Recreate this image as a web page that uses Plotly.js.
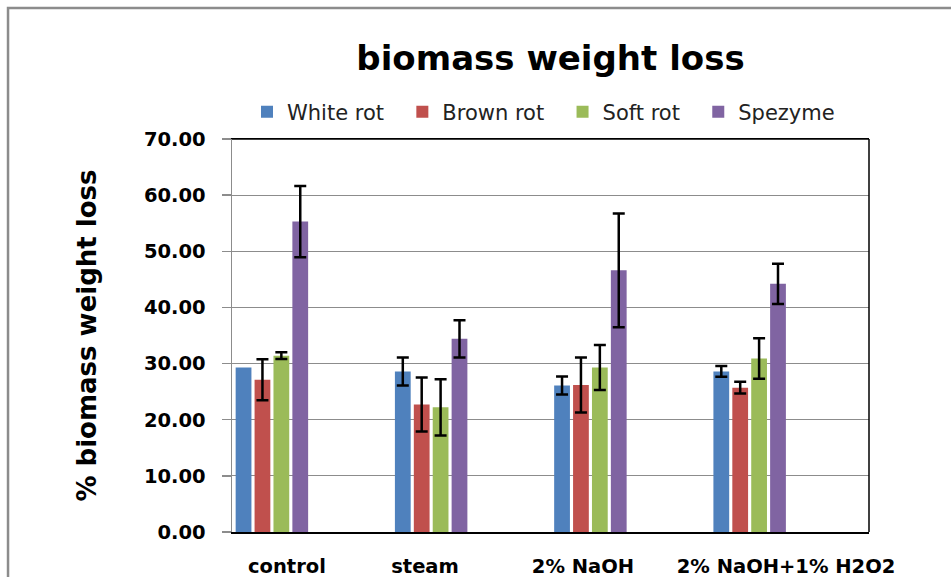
<!DOCTYPE html>
<html>
<head>
<meta charset="utf-8">
<script src="https://cdn.plot.ly/plotly-3.0.1.min.js"></script>
<style>
  html, body { margin: 0; padding: 0; background: #fff; }
  #chart { width: 951px; height: 577px; }
</style>
</head>
<body>
<div id="chart"></div>
<script>
// ---- data ----
const categories = ["control", "steam", "2% NaOH", "2% NaOH+1% H2O2"];
const seriesNames = ["White rot", "Brown rot", "Soft rot", "Spezyme"];
const whiteRot  = [29.3, 28.6, 26.1, 28.6];
const brownRot  = [27.1, 22.7, 26.2, 25.7];
const softRot   = [31.4, 22.2, 29.3, 30.9];
const spezyme   = [55.3, 34.4, 46.6, 44.2];
const whiteErr  = [NaN, 2.5, 1.6, 0.95];   // no error bar visible on control
const brownErr  = [3.65, 4.8, 4.9, 1.05];
const softErr   = [0.6, 5.0, 4.0, 3.6];
const spezErr   = [6.35, 3.3, 10.15, 3.6];
const yTickVals = [0, 10, 20, 30, 40, 50, 60, 70];

// ---- styling ----
const colors = ["#4F81BD", "#C0504D", "#9BBB59", "#8064A2"];
const values = [whiteRot, brownRot, softRot, spezyme];
const errors = [whiteErr, brownErr, softErr, spezErr];
const xIdx = categories.map((c, i) => i);
const barWidth = 0.099;
const firstOffset = -0.477;
const pitch = 0.1187;
// label centres relative to category centre (reference places them irregularly)
const labelShift = [-0.155, -0.288, -0.296, -0.021];
const pad = "\u00a0\u00a0";

const traces = seriesNames.map((name, k) => ({
  type: "bar",
  name: name + pad,
  x: xIdx,
  y: values[k],
  width: barWidth,
  offset: firstOffset + k * pitch,
  marker: { color: colors[k], line: { width: 0 } },
  error_y: {
    type: "data",
    array: errors[k],
    visible: true,
    color: "#000000",
    thickness: 2.5,
    width: 6
  },
  hoverinfo: "name+y"
}));

const layout = {
  width: 951,
  height: 577,
  margin: { l: 232, r: 82, t: 139, b: 45 },
  paper_bgcolor: "#ffffff",
  plot_bgcolor: "#ffffff",
  barmode: "overlay",
  showlegend: true,
  title: {
    text: "<b>biomass weight loss</b>",
    font: { family: "DejaVu Sans", size: 34, color: "#000000" },
    x: 0.5, xref: "paper", xanchor: "center",
    y: 0.9, yref: "container", yanchor: "middle"
  },
  legend: {
    orientation: "h",
    x: 0.5, xanchor: "center",
    y: 1.0687, yanchor: "middle",
    font: { family: "DejaVu Sans", size: 21, color: "#222222" },
    bgcolor: "rgba(0,0,0,0)",
    itemclick: false
  },
  xaxis: {
    type: "linear",
    range: [-0.5, 3.5],
    tickmode: "array",
    tickvals: xIdx.map((v, i) => v + labelShift[i]),
    ticktext: categories.map(c => "<b>" + c + "</b>"),
    ticks: "",
    ticklabelstandoff: 16,
    tickfont: { family: "DejaVu Sans", size: 19.5, color: "#000000" },
    showgrid: false,
    zeroline: false,
    showline: true,
    linecolor: "#000000",
    linewidth: 1.5,
    mirror: true,
    fixedrange: true
  },
  yaxis: {
    range: [0, 70],
    tickmode: "array",
    tickvals: yTickVals,
    ticktext: yTickVals.map(v => "<b>" + v.toFixed(2) + "</b>"),
    ticks: "outside",
    ticklen: 9,
    tickcolor: "#8c8c8c",
    tickwidth: 1.5,
    ticklabelstandoff: 12,
    tickfont: { family: "DejaVu Sans", size: 19.5, color: "#000000" },
    showgrid: true,
    gridcolor: "#8c8c8c",
    gridwidth: 1.2,
    zeroline: false,
    showline: true,
    linecolor: "#8c8c8c",
    linewidth: 1.5,
    title: {
      text: "<b>% biomass weight loss</b>",
      font: { family: "DejaVu Sans", size: 26, color: "#000000" },
      standoff: 40
    },
    fixedrange: true
  },
  shapes: [
    { type: "line", xref: "paper", yref: "paper", x0: 1, x1: 1, y0: 0, y1: 1,
      line: { color: "#000000", width: 1.5 } },
    { type: "line", xref: "paper", yref: "paper", x0: 0, x1: 1, y0: 1, y1: 1,
      line: { color: "#000000", width: 1.5 } },
    { type: "rect", xref: "paper", yref: "paper",
      x0: -0.3516, x1: 1.25, y0: -0.25, y1: 1.3333,
      line: { color: "#8c8c8c", width: 2.5 }, fillcolor: "rgba(0,0,0,0)", layer: "below" }
  ]
};

Plotly.newPlot("chart", traces, layout, { displayModeBar: false, staticPlot: true });
</script>
</body>
</html>
